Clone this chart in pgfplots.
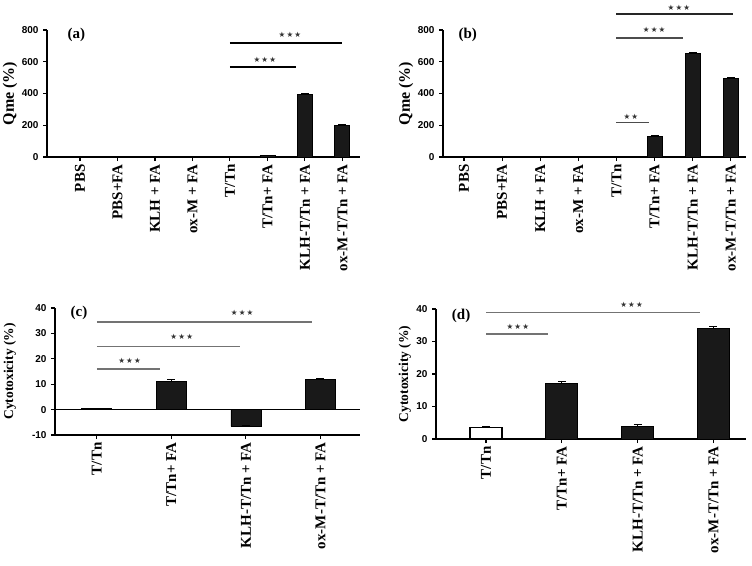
\documentclass[border=0pt]{standalone}
\usepackage{fontspec}
\setmainfont{Liberation Serif}
\setsansfont{Liberation Sans}
\newfontfamily\dejavu{DejaVu Sans}
\usepackage{pgfplots}
\pgfplotsset{compat=1.18}
\tikzset{
  bk/.style={fill=black!90, draw=black, line width=0.8pt},
  sig/.style={line width=1.1pt, black!55},
}
\pgfplotsset{
  gp/.style={
    scale only axis,
    axis x line*=bottom, axis y line*=left,
    axis line style={line width=1.1pt, black},
    tick align=outside,
    major tick length=4pt,
    every tick/.style={black, line width=1.1pt},
    clip=false,
    ybar, bar shift=0pt,
    /pgf/number format/assume math mode=true,
    yticklabel style={font=\sffamily\bfseries\fontsize{10}{10}\selectfont, xshift=-1pt},
    xticklabel style={rotate=90, anchor=east, font=\bfseries\fontsize{15}{15}\selectfont},
    every axis y label/.style={rotate=90, anchor=center, font=\bfseries\fontsize{13.5}{14}\selectfont},
    error bars/y dir=plus, error bars/y explicit,
    error bars/error mark options={rotate=90, mark size=4pt, line width=1pt, black},
    error bars/error bar style={line width=1pt, black},
  },
}
\newcommand{\stars}[1]{{\dejavu\fontsize{7.5}{8}\selectfont\color{black!80}#1}}
\newcommand{\three}{\stars{★\kern1.2pt★\kern1.2pt★}}
\newcommand{\two}{\stars{★\kern1.2pt★}}
\begin{document}
\begin{tikzpicture}
\path[use as bounding box] (0,0) rectangle (752pt,-565pt);

% (a)
\begin{axis}[gp, at={(47pt,-157pt)}, anchor=south west,
  width=313pt, height=127pt, bar width=15pt,
  xmin=-0.88, xmax=7.47, ymin=0, ymax=800,
  ytick={0,200,400,600,800},
  xtick={0,...,7},
  xticklabels={PBS, PBS+FA, KLH + FA, ox-M + FA, T/Tn, T/Tn+ FA, KLH-T/Tn + FA, ox-M-T/Tn + FA},
  ylabel={Qme (\%)},
  every axis y label/.append style={at={(rel axis cs:-0.118,0.5)}, font=\bfseries\fontsize{16}{16}\selectfont},
]
\addplot[bk] coordinates {(5,8) +- (0,3) (6,395) +- (0,8) (7,198) +- (0,5)};
\draw[sig, black] (axis cs:4,718) -- (axis cs:7,718);
\node at (axis cs:5.6,768) {\three};
\draw[sig, black] (axis cs:4,567) -- (axis cs:5.75,567);
\node at (axis cs:4.93,611) {\three};
\node[anchor=west, font=\bfseries\fontsize{15}{15}\selectfont] at (rel axis cs:0.055,0.96) {(a)};
\end{axis}

% (b)
\begin{axis}[gp, at={(443pt,-157pt)}, anchor=south west,
  width=303pt, height=127pt, bar width=15pt,
  xmin=-0.55, xmax=7.4, ymin=0, ymax=800,
  ytick={0,200,400,600,800},
  xtick={0,...,7},
  xticklabels={PBS, PBS+FA, KLH + FA, ox-M + FA, T/Tn, T/Tn+ FA, KLH-T/Tn + FA, ox-M-T/Tn + FA},
  ylabel={Qme (\%)},
  every axis y label/.append style={at={(rel axis cs:-0.122,0.5)}, font=\bfseries\fontsize{16}{16}\selectfont},
]
\addplot[bk] coordinates {(5,130) +- (0,5) (6,650) +- (0,10) (7,497) +- (0,5)};
\draw[sig, black!85] (axis cs:4,901) -- (axis cs:7.06,901);
\node at (axis cs:5.64,940) {\three};
\draw[sig, black!70] (axis cs:4,750) -- (axis cs:5.75,750);
\node at (axis cs:4.99,800) {\three};
\draw[sig, black!70] (axis cs:4,220) -- (axis cs:4.86,220);
\node at (axis cs:4.38,255) {\two};
\node[anchor=west, font=\bfseries\fontsize{15}{15}\selectfont] at (rel axis cs:0.04,0.96) {(b)};
\end{axis}

% (c)
\begin{axis}[gp, at={(55pt,-435pt)}, anchor=south west,
  width=305pt, height=127pt, bar width=30pt,
  xmin=-0.56, xmax=3.53, ymin=-10, ymax=40,
  ytick={-10,0,10,20,30,40},
  xtick={0,...,3},
  xticklabels={T/Tn, T/Tn+ FA, KLH-T/Tn + FA, ox-M-T/Tn + FA},
  ylabel={Cytotoxicity (\%)},
  every axis y label/.append style={at={(rel axis cs:-0.148,0.5)}},
]
\draw[line width=1.1pt] (axis cs:-0.56,0) -- (axis cs:3.53,0);
\addplot[bk] coordinates {(0,0.3) +- (0,0.2) (1,11) +- (0,0.8) (2,-6.5) +- (0,0.3) (3,11.8) +- (0,0.4)};
\draw[sig] (axis cs:0,34.5) -- (axis cs:2.88,34.5);
\node at (axis cs:1.95,38) {\three};
\draw[sig] (axis cs:0,25) -- (axis cs:1.92,25);
\node at (axis cs:1.14,28.5) {\three};
\draw[sig] (axis cs:0,16) -- (axis cs:0.85,16);
\node at (axis cs:0.44,19.2) {\three};
\node[anchor=west, font=\bfseries\fontsize{15}{15}\selectfont] at (rel axis cs:0.04,0.96) {(c)};
\end{axis}

% (d)
\begin{axis}[gp, at={(436pt,-439pt)}, anchor=south west,
  width=310pt, height=130pt, bar width=32pt,
  xmin=-0.66, xmax=3.43, ymin=0, ymax=40,
  ytick={0,10,20,30,40},
  xtick={0,...,3},
  xticklabels={T/Tn, T/Tn+ FA, KLH-T/Tn + FA, ox-M-T/Tn + FA},
  ylabel={Cytotoxicity (\%)},
  every axis y label/.append style={at={(rel axis cs:-0.1,0.5)}},
]
\addplot[fill=white, draw=black, line width=1.4pt, bar shift=0pt] coordinates {(0,3.5) +- (0,0.3)};
\addplot[bk, bar shift=0pt] coordinates {(1,17) +- (0,0.6) (2,3.8) +- (0,0.7) (3,34) +- (0,0.6)};
\draw[sig] (axis cs:0,38.8) -- (axis cs:2.82,38.8);
\node at (axis cs:1.92,41.2) {\three};
\draw[sig] (axis cs:0,32.3) -- (axis cs:0.82,32.3);
\node at (axis cs:0.42,34.6) {\three};
\node[anchor=west, font=\bfseries\fontsize{15}{15}\selectfont] at (rel axis cs:0.04,0.95) {(d)};
\end{axis}
\end{tikzpicture}
\end{document}
